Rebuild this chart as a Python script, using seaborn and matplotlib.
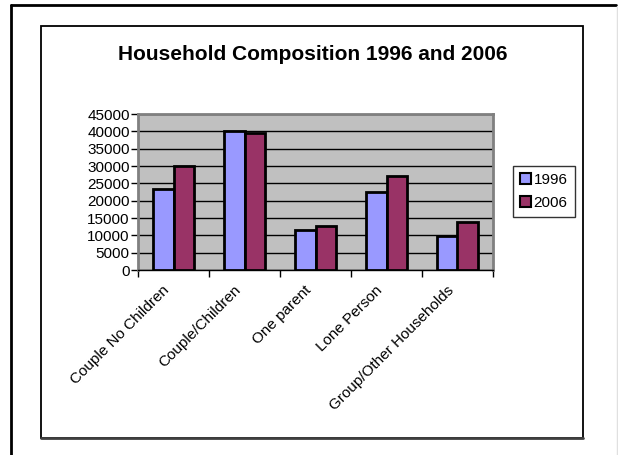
import pandas as pd
import seaborn as sns
import matplotlib.pyplot as plt
from matplotlib.lines import Line2D
from matplotlib.patches import Rectangle
from matplotlib.transforms import ScaledTranslation

# values
categories = ['Couple No Children', 'Couple/Children', 'One parent',
              'Lone Person', 'Group/Other Households']
vals_1996 = [23300, 40100, 11500, 22400, 9800]
vals_2006 = [30100, 39600, 12700, 27100, 13750]
years = ['1996', '2006']
yticks = list(range(0, 45001, 5000))

df = pd.DataFrame({
    'category': categories * 2,
    'year': [years[0]] * 5 + [years[1]] * 5,
    'households': vals_1996 + vals_2006,
})

sns.set_style('white', rc={'text.color': 'black', 'xtick.color': 'black',
                           'ytick.color': 'black'})
plt.rcParams['font.family'] = ['Liberation Sans', 'DejaVu Sans']

W, H = 618, 455
fig = plt.figure(figsize=(W / 100, H / 100), dpi=100)
fig.patch.set_facecolor('white')

# outer frame (page) and inner chart frame
fig.add_artist(Line2D([11 / W, 11 / W], [0, 1 - 5 / H], color='black', lw=2))
fig.add_artist(Line2D([11 / W, 616 / W], [1 - 5 / H, 1 - 5 / H], color='black', lw=2))
fig.add_artist(Line2D([617 / W, 617 / W], [0, 1 - 6 / H], color='#e0e0e0', lw=1))
fig.add_artist(Rectangle((41 / W, 1 - 438 / H), 542 / W, 412 / H,
                         fill=False, edgecolor='black', lw=1.3))
fig.add_artist(Line2D([41 / W, 583 / W], [1 - 438 / H, 1 - 438 / H],
                      color='#404040', lw=2))

ax = fig.add_axes([138 / W, 1 - 270 / H, 355 / W, 156 / H])
ax.set_facecolor('#c0c0c0')

sns.barplot(data=df, x='category', y='households', hue='year',
            palette=['#9999ff', '#993366'], saturation=1, width=0.58, gap=0,
            edgecolor='black', linewidth=2, ax=ax, legend=False, zorder=3)

ax.set_ylim(0, 45000)
ax.set_xlim(-0.5, 4.5)
ax.set_yticks(yticks)
ax.set_yticklabels([str(t) for t in yticks], fontsize=11)
ax.yaxis.grid(True, color='black', lw=1)
ax.set_axisbelow(True)
ax.set_xlabel('')
ax.set_ylabel('')

ax.set_xticks(range(5))
ax.set_xticklabels(categories, rotation=45, ha='right', va='center',
                   rotation_mode='anchor', fontsize=11)
ax.set_xticks([i - 0.5 for i in range(6)], minor=True)
ax.tick_params(axis='x', which='major', length=0, pad=13)
ax.tick_params(axis='x', which='minor', length=5, width=1, color='black',
               direction='out', bottom=True)
ax.tick_params(axis='y', length=5, width=1, color='black', direction='out',
               left=True, pad=1)

# nudge the rotated category labels a little to the left
shift = ScaledTranslation(-6 / 100, 0, fig.dpi_scale_trans)
for lab in ax.get_xticklabels():
    lab.set_transform(lab.get_transform() + shift)

for side in ['top', 'right', 'left']:
    ax.spines[side].set_color('#808080')
    ax.spines[side].set_linewidth(2)
ax.spines['bottom'].set_color('black')
ax.spines['bottom'].set_linewidth(1)

handles = [Rectangle((0, 0), 1, 1, facecolor=c, edgecolor='black', lw=1.5)
           for c in ['#9999ff', '#993366']]
leg = fig.legend(handles, years, loc='upper left',
                 bbox_to_anchor=(513 / W, 1 - 166 / H), fontsize=11,
                 frameon=True, fancybox=False, edgecolor='black',
                 handlelength=0.7, handleheight=0.7, handletextpad=0.2,
                 borderpad=0.45, labelspacing=0.6, borderaxespad=0)
leg.get_frame().set_linewidth(1)

fig.text(313 / W, 1 - 55 / H, 'Household Composition 1996 and 2006',
         ha='center', va='center', fontsize=15, fontweight='bold')

fig.savefig('out.png', dpi=100)
